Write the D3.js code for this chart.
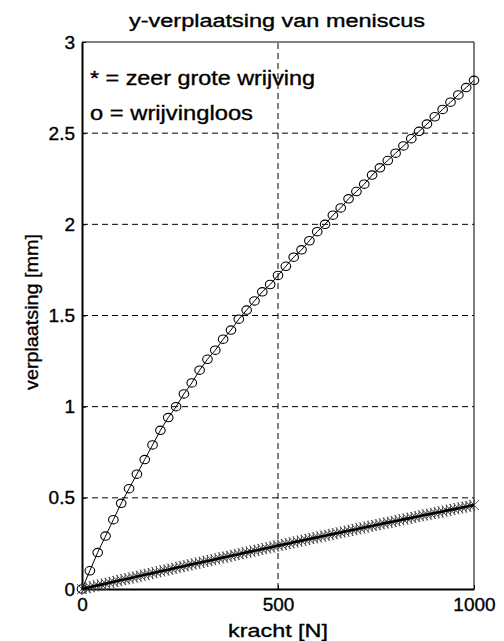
<!DOCTYPE html>
<html>
<head>
<meta charset="utf-8">
<script src="https://cdn.jsdelivr.net/npm/d3@7"></script>
<style>
  body { margin: 0; background: #fff; }
  svg text { font-family: "Liberation Sans", Arial, sans-serif; fill: #000; stroke: #000; stroke-width: 0.35; }
</style>
</head>
<body>
<div id="graph"></div>
<script>
// wrijvingloos (o), elke 20 N
let krachtO = d3.range(0, 1001, 20)
let verplO = [0, 0.10, 0.20, 0.29, 0.38, 0.47, 0.55, 0.63, 0.71, 0.79,
  0.87, 0.94, 1.00, 1.07, 1.13, 1.20, 1.26, 1.31, 1.37, 1.42,
  1.48, 1.53, 1.58, 1.63, 1.67, 1.72, 1.77, 1.82, 1.86, 1.91,
  1.96, 2.00, 2.05, 2.09, 2.14, 2.18, 2.22, 2.27, 2.31, 2.35,
  2.39, 2.43, 2.47, 2.51, 2.55, 2.59, 2.63, 2.67, 2.71, 2.75, 2.79]

// zeer grote wrijving (*), elke 10 N
let krachtS = d3.range(0, 1001, 10)
let verplS = [0, 0.005, 0.010, 0.015, 0.020, 0.024, 0.029, 0.034, 0.039, 0.044,
  0.049, 0.054, 0.058, 0.063, 0.068, 0.073, 0.078, 0.082, 0.087, 0.092,
  0.097, 0.102, 0.106, 0.111, 0.116, 0.121, 0.125, 0.130, 0.135, 0.140,
  0.144, 0.149, 0.154, 0.158, 0.163, 0.168, 0.173, 0.177, 0.182, 0.187,
  0.191, 0.196, 0.201, 0.205, 0.210, 0.214, 0.219, 0.224, 0.228, 0.233,
  0.238, 0.242, 0.247, 0.251, 0.256, 0.260, 0.265, 0.270, 0.274, 0.279,
  0.283, 0.288, 0.292, 0.297, 0.301, 0.306, 0.310, 0.315, 0.319, 0.324,
  0.328, 0.333, 0.337, 0.342, 0.346, 0.351, 0.355, 0.360, 0.364, 0.368,
  0.373, 0.377, 0.382, 0.386, 0.390, 0.395, 0.399, 0.404, 0.408, 0.412,
  0.417, 0.421, 0.425, 0.430, 0.434, 0.438, 0.443, 0.447, 0.451, 0.456, 0.460]

let xTicks = [0, 500, 1000]
let yTicks = [0, 0.5, 1, 1.5, 2, 2.5, 3]
let legendLines = ['* = zeer grote wrijving', 'o = wrijvingloos']

let margin = { top: 42, right: 30, bottom: 52, left: 82 },
    width = 504 - margin.left - margin.right,
    height = 641 - margin.top - margin.bottom;

let svg = d3.select("#graph")
    .append("svg")
    .attr("width", 504)
    .attr("height", 641)

let x = d3.scaleLinear().domain([0, 1000]).range([margin.left, margin.left + width])
let y = d3.scaleLinear().domain([0, 3]).range([margin.top + height, margin.top])

// grid
svg.append("g")
    .selectAll("line")
    .data(yTicks.filter(d => d > 0 && d < 3))
    .join("line")
    .attr("x1", x(0)).attr("x2", x(1000))
    .attr("y1", d => y(d)).attr("y2", d => y(d))
    .attr("stroke", "#000").attr("stroke-width", 1)
    .attr("stroke-dasharray", "6,4")

svg.append("line")
    .attr("x1", x(500)).attr("x2", x(500))
    .attr("y1", y(0)).attr("y2", y(3))
    .attr("stroke", "#000").attr("stroke-width", 1)
    .attr("stroke-dasharray", "6,4")

// axes
let yAxis = svg.append("g")
    .attr("transform", `translate(${x(0)},0)`)
    .call(d3.axisLeft(y).tickValues(yTicks).tickFormat(d => d).tickSizeInner(-4).tickSizeOuter(0).tickPadding(7))
yAxis.select(".domain").attr("stroke-width", 2)
yAxis.selectAll("text").attr("font-size", 19).attr("font-family", "Liberation Sans, Arial, sans-serif").attr("fill", "#000")

let xAxis = svg.append("g")
    .attr("transform", `translate(0,${y(0)})`)
    .call(d3.axisBottom(x).tickValues(xTicks).tickFormat(d => d).tickSizeInner(-4).tickSizeOuter(0).tickPadding(9))
xAxis.select(".domain").attr("stroke-width", 2)
xAxis.selectAll("text").attr("font-size", 19).attr("font-family", "Liberation Sans, Arial, sans-serif").attr("fill", "#000")

// top and right border
svg.append("path")
    .attr("d", `M${x(0)},${y(3)}H${x(1000)}V${y(0)}`)
    .attr("fill", "none").attr("stroke", "#000").attr("stroke-width", 1)

// wrijvingloos
let dataO = krachtO.map((k, i) => [k, verplO[i]])
let line = d3.line().x(d => x(d[0])).y(d => y(d[1]))

svg.append("path")
    .datum(dataO)
    .attr("d", line)
    .attr("fill", "none").attr("stroke", "#000").attr("stroke-width", 1)

svg.append("g")
    .selectAll("ellipse")
    .data(dataO)
    .join("ellipse")
    .attr("cx", d => x(d[0])).attr("cy", d => y(d[1]))
    .attr("rx", 4.8).attr("ry", 4.2)
    .attr("fill", "none").attr("stroke", "#000").attr("stroke-width", 1.1)

// zeer grote wrijving
let dataS = krachtS.map((k, i) => [k, verplS[i]])
let star = "M-5,-5L5,5M-5,5L5,-5M0,-6V6"

svg.append("g")
    .selectAll("path")
    .data(dataS)
    .join("path")
    .attr("transform", d => `translate(${x(d[0])},${y(d[1])})`)
    .attr("d", star)
    .attr("fill", "none").attr("stroke", "#444").attr("stroke-width", 0.9)

svg.append("path")
    .datum(dataS)
    .attr("d", line)
    .attr("fill", "none").attr("stroke", "#000").attr("stroke-width", 2.6)

// legend text
svg.append("g")
    .selectAll("text")
    .data(legendLines)
    .join("text")
    .attr("x", 90)
    .attr("y", (d, i) => 85 + i * 35)
    .attr("font-size", 20)
    .attr("textLength", (d, i) => i == 0 ? 225 : 163)
    .attr("lengthAdjust", "spacingAndGlyphs")
    .text(d => d)

// titles
svg.append("text")
    .attr("x", 277).attr("y", 27)
    .attr("text-anchor", "middle")
    .attr("font-size", 18)
    .attr("textLength", 296).attr("lengthAdjust", "spacingAndGlyphs")
    .text("y-verplaatsing van meniscus")

svg.append("text")
    .attr("x", 278).attr("y", 637)
    .attr("text-anchor", "middle")
    .attr("font-size", 19)
    .attr("textLength", 100).attr("lengthAdjust", "spacingAndGlyphs")
    .text("kracht [N]")

svg.append("text")
    .attr("transform", "translate(38,312) rotate(-90)")
    .attr("text-anchor", "middle")
    .attr("font-size", 19)
    .attr("textLength", 156).attr("lengthAdjust", "spacingAndGlyphs")
    .text("verplaatsing [mm]")
</script>
</body>
</html>
